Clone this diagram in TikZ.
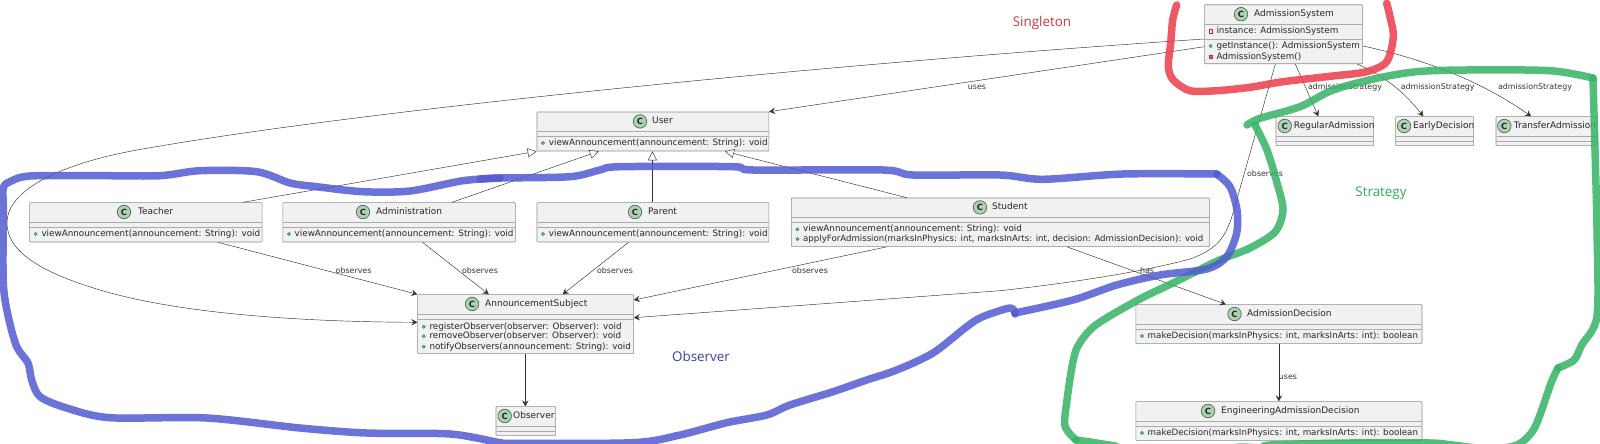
\documentclass[tikz,border=0pt]{standalone}
\usepackage{fontspec}
\setmainfont{DejaVu Sans}
\newfontfamily\notefont{Open Sans}
\usetikzlibrary{arrows.meta}
\usetikzlibrary{positioning}
\definecolor{boxfill}{HTML}{F1F1F1}
\definecolor{boxline}{HTML}{8C8C8C}
\definecolor{divline}{HTML}{ABABAB}
\definecolor{edgeline}{HTML}{2F2F2F}
\definecolor{circfill}{HTML}{ADD1B2}
\definecolor{circline}{HTML}{3E5F45}
\definecolor{pubfill}{HTML}{84BE84}
\definecolor{publine}{HTML}{038048}
\definecolor{privline}{HTML}{C82930}
\definecolor{markred}{HTML}{EC3B4A}
\definecolor{markblue}{HTML}{525AD1}
\definecolor{markgreen}{HTML}{35B365}
\definecolor{notered}{HTML}{C8383E}
\definecolor{noteblue}{HTML}{3B3FA8}
\definecolor{notegreen}{HTML}{2EA85A}
\tikzset{
  classbox/.style={draw=boxline, fill=boxfill, line width=.6pt, rounded corners=.8pt, inner sep=0pt, anchor=north west},
  classmark/.style={circle, draw=circline, fill=circfill, line width=.6pt, minimum size=13.5pt, inner sep=0pt, font=\fontsize{8.5}{9}\selectfont\bfseries, text=black!85},
  classname/.style={anchor=west, inner sep=0pt, font=\fontsize{9}{10}\selectfont, text height=7pt, text depth=2pt, text=black!85},
  member/.style={anchor=west, inner sep=0pt, font=\fontsize{8.8}{10}\selectfont, text height=6.8pt, text depth=2pt, text=black!85},
  pubdot/.style={circle, draw=publine, fill=pubfill, line width=.4pt, minimum size=3.2pt, inner sep=0pt},
  privbox/.style={rectangle, draw=privline, fill=white, line width=.5pt, minimum size=3.6pt, inner sep=0pt},
  privfill/.style={privbox, fill=privline!75},
  edgelabel/.style={inner sep=0pt, font=\fontsize{7.9}{9}\selectfont, text=black!80},
  notelabel/.style={inner sep=0pt, font=\notefont\fontsize{13.4}{15}\selectfont},
  uses/.style={draw=edgeline, line width=.45pt, -{Stealth[length=6pt,width=6.5pt,inset=2.4pt]}},
  inherit/.style={draw=edgeline, line width=.45pt, -{Triangle[open,length=9pt,width=9pt,fill=white]}},
  marker/.style={line width=7.5pt, line cap=round, line join=round, opacity=.85},
}
% name, x, y, width, height, circle offset, title offset, title, second divider
\newcommand{\umlclass}[9]{
  \node[classbox, minimum width=#4pt, minimum height=#5pt] (#1) at (#2,#3) {};
  \draw[divline, line width=.6pt] ([yshift=-20pt]#1.north west) -- ([yshift=-20pt]#1.north east);
  \draw[divline, line width=.6pt] ([yshift=-#9pt]#1.north west) -- ([yshift=-#9pt]#1.north east);
  \node[classmark] (#1-mark) at ([xshift=#6pt,yshift=-9.7pt]#1.north west) {C};
  \node[classname] (#1-name) at ([xshift=#7pt,yshift=-9.7pt]#1.north west) {#8};
}
% box, tag, row offset, dot style, text
\newcommand{\umlmember}[5]{
  \node[#4] (#1-dot#2) at ([xshift=6.4pt,yshift=-#3pt]#1.north west) {};
  \node[member] (#1-row#2) at ([xshift=12pt,yshift=-#3pt]#1.north west) {#5};
}
\begin{document}
\begin{tikzpicture}[x=1pt,y=-1pt]
  \useasboundingbox (0,0) rectangle (1600,444);

  \umlclass{admsystem}{1204.3}{4.5}{158}{59}{36.7}{49.7}{AdmissionSystem}{34.5}
  \umlmember{admsystem}{1}{26.5}{privbox}{instance: AdmissionSystem}
  \umlmember{admsystem}{2}{41.5}{pubdot}{getInstance(): AdmissionSystem}
  \umlmember{admsystem}{3}{52.2}{privfill}{AdmissionSystem()}

  \umlclass{regular}{1275.7}{116.3}{97.6}{29}{9}{18}{RegularAdmission}{24.5}
  \umlclass{early}{1395.3}{116.3}{78}{29}{8.7}{17.7}{EarlyDecision}{24.5}
  \umlclass{transfer}{1495.7}{116.3}{101}{29}{8.6}{18}{TransferAdmission}{24.5}

  \umlclass{user}{536.7}{111.7}{231.9}{39}{103.3}{115.3}{User}{24.5}
  \umlmember{user}{1}{31.3}{pubdot}{viewAnnouncement(announcement: String): void}

  \umlclass{teacher}{29.3}{202.3}{232.5}{39.4}{94.7}{108.7}{Teacher}{24.5}
  \umlmember{teacher}{1}{31.7}{pubdot}{viewAnnouncement(announcement: String): void}
  \umlclass{administration}{282.5}{202.3}{232.5}{39.4}{80.5}{93.5}{Administration}{24.5}
  \umlmember{administration}{1}{31.7}{pubdot}{viewAnnouncement(announcement: String): void}
  \umlclass{parent}{536.7}{202.3}{231.9}{39.4}{98.3}{111.3}{Parent}{24.5}
  \umlmember{parent}{1}{31.7}{pubdot}{viewAnnouncement(announcement: String): void}
  \umlclass{student}{791}{197.7}{418}{48.6}{189}{201}{Student}{24.5}
  \umlmember{student}{1}{31.6}{pubdot}{viewAnnouncement(announcement: String): void}
  \umlmember{student}{2}{41.3}{pubdot}{\fontsize{8.6}{10}\selectfont applyForAdmission(marksInPhysics: int, marksInArts: int, decision: AdmissionDecision): void}

  \umlclass{subject}{417.3}{294.3}{216}{59}{54.7}{67.7}{AnnouncementSubject}{24.5}
  \umlmember{subject}{1}{32.4}{pubdot}{registerObserver(observer: Observer): void}
  \umlmember{subject}{2}{42}{pubdot}{removeObserver(observer: Observer): void}
  \umlmember{subject}{3}{52.4}{pubdot}{notifyObservers(announcement: String): void}
  \umlclass{observer}{495.7}{406.3}{59.6}{29}{9}{17.3}{Observer}{24.5}

  \umlclass{decision}{1135.5}{304.3}{286.2}{39}{99}{111.5}{AdmissionDecision}{24.5}
  \umlmember{decision}{1}{31.7}{pubdot}{\fontsize{8.7}{10}\selectfont makeDecision(marksInPhysics: int, marksInArts: int): boolean}
  \umlclass{engineering}{1135.5}{401.3}{286.2}{39}{72.5}{85.5}{EngineeringAdmissionDecision}{24.5}
  \umlmember{engineering}{1}{31.7}{pubdot}{\fontsize{8.7}{10}\selectfont makeDecision(marksInPhysics: int, marksInArts: int): boolean}

  % inheritance
  \draw[inherit] ([xshift=213.7pt]teacher.north west) -- (user.south west);
  \draw[inherit] ([xshift=169.5pt]administration.north west) -- ([xshift=62pt]user.south west);
  \draw[inherit] ([xshift=115.7pt]parent.north west) -- ([xshift=115.7pt]user.south west);
  \draw[inherit] ([xshift=115.8pt]student.north west) -- ([xshift=188.3pt]user.south west);

  % associations
  \draw[uses] ([yshift=-42.2pt]admsystem.north west) -- (user.north east);
  \draw[uses] ([xshift=91pt]admsystem.south west) -- ([xshift=42.6pt]regular.north west);
  \draw[uses] ([xshift=153pt]admsystem.south west) .. controls (1385,76) and (1405,93) .. ([xshift=28pt]early.north west);
  \draw[uses] ([yshift=-41.5pt]admsystem.north east) .. controls (1420,58) and (1480,80) .. ([xshift=35.3pt]transfer.north west);
  \draw[uses] ([yshift=-34.5pt]admsystem.north west) .. controls (800,66) and (350,112) .. (137,150) .. controls (60,164) and (7,190) .. (7,223) .. controls (7,255) and (50,275) .. (100,290) .. controls (190,317) and (330,322) .. ([yshift=-28pt]subject.north west);
  \draw[uses] ([xshift=71pt]admsystem.south west) -- (1233,213) .. controls (1225,240) and (1215,250) .. (1190,259) .. controls (1150,270) and (1080,282) .. (1000,290.7) -- ([yshift=-23.4pt]subject.north east);
  \draw[uses] ([xshift=188.7pt]teacher.south west) -- (subject.north west);
  \draw[uses] ([xshift=140pt]administration.south west) -- ([xshift=71.4pt]subject.north west);
  \draw[uses] ([xshift=91.9pt]parent.south west) -- ([xshift=145.4pt]subject.north west);
  \draw[uses] ([xshift=95.6pt]student.south west) -- ([yshift=-5.7pt]subject.north east);
  \draw[uses] ([xshift=276pt]student.south west) -- ([xshift=90.3pt]decision.north west);
  \draw[uses] ([xshift=108pt]subject.south west) -- ([xshift=29.6pt]observer.north west);
  \draw[uses] (decision.south) -- (engineering.north);

  \node[edgelabel] (lblusers) at (977,87) {uses};
  \node[edgelabel] (lblregular) at (1345,87) {admissionStrategy};
  \node[edgelabel] (lblearly) at (1437.7,87) {admissionStrategy};
  \node[edgelabel] (lbltransfer) at (1535,87) {admissionStrategy};
  \node[edgelabel] (lblsystem) at (1265,173.7) {observes};
  \node[edgelabel] (lblteacher) at (353.6,271) {observes};
  \node[edgelabel] (lbladmin) at (480,271) {observes};
  \node[edgelabel] (lblparent) at (615,271) {observes};
  \node[edgelabel] (lblstudent) at (810,271) {observes};
  \node[edgelabel] (lblhas) at (1147,271) {has};
  \node[edgelabel] (lbldecision) at (1288,377.7) {uses};

  \node[notelabel, text=notered] (singleton) at (1042,23) {Singleton};
  \node[notelabel, text=notegreen] (strategy) at (1381,193.5) {Strategy};
  \node[notelabel, text=noteblue] (obsnote) at (701,356) {Observer};

  % hand drawn groups
  \begin{scope}
    \clip (0,0) rectangle (1600,444);
    \draw[marker, markred] plot[smooth, tension=.5] coordinates {(1176.7,5) (1172.7,20) (1170.7,43) (1168.3,66.7) (1173.3,80) (1190,90.7) (1216.7,90.7) (1250,87.3) (1283,81.7) (1333,76) (1366.7,71.7) (1386.7,61.7) (1393.3,36.7) (1390,16.7) (1386.7,3.3)};

    \draw[marker, markgreen] plot[smooth, tension=.5] coordinates {(1247,125) (1260,118.3) (1300,106.7) (1333,90) (1376.7,78.3) (1416.7,71.7) (1466.7,70) (1550,70.7) (1593,78)};
    \draw[marker, markgreen] plot[smooth, tension=.5] coordinates {(1593,78) (1595,150) (1597,230) (1597,316) (1581.7,345) (1574,360) (1558,368)};
    \draw[marker, markgreen] plot[smooth, tension=.5] coordinates {(1558,368) (1551,383) (1540,415) (1532,432) (1517,445) (1490,449) (1452,445) (1430,443) (1350,443) (1270,445) (1262,448) (1240,447) (1220,449) (1130,449) (1115,446) (1090,442) (1076,440)};
    \draw[marker, markgreen] plot[smooth, tension=.5] coordinates {(1076,440) (1065,426) (1067,400) (1072.7,363) (1078.5,345) (1095.7,325) (1138,300) (1173,283) (1213,263) (1227,257) (1250,248) (1275,232) (1283,210) (1277,183) (1267,150) (1255,125)};

    \draw[marker, markblue] plot[smooth, tension=.5] coordinates {(480,179) (500,178) (570,176.7) (600,170) (620,166.7) (733,166.7) (753,170) (883,170) (913,175) (1000,175) (1043,179.3) (1123,174) (1216.7,174)};
    \draw[marker, markblue] plot[smooth, tension=.5] coordinates {(1216.7,174) (1230,186.7) (1237,210) (1236.7,233) (1226.7,256.7) (1206.7,269) (1160,275) (1116.7,285) (1073,300) (1015,313)};
    \draw[marker, markblue] plot[smooth, tension=.5] coordinates {(1015,314) (1010,308) (982,317) (966.7,326.7) (933,353) (896.7,370) (866.7,380) (833,391.7) (790,405) (766.7,415) (726.7,422.7) (680,435) (633,442.7) (513,443.3) (500,442.7) (450,434) (366.7,433) (300,428) (206.7,418) (110,417.7) (66.7,408) (40,396.7) (31.7,380) (28,363) (16.7,346.7) (8.3,316.7) (3.3,283) (3.3,210) (3.3,188) (10,181.7) (30,176) (100,175.7) (160,175.7) (200,170.7) (256.7,171.7) (290,183) (316.7,186.7) (363,191.7) (410,191) (463,180.7) (500,178)};
  \end{scope}
\end{tikzpicture}
\end{document}
